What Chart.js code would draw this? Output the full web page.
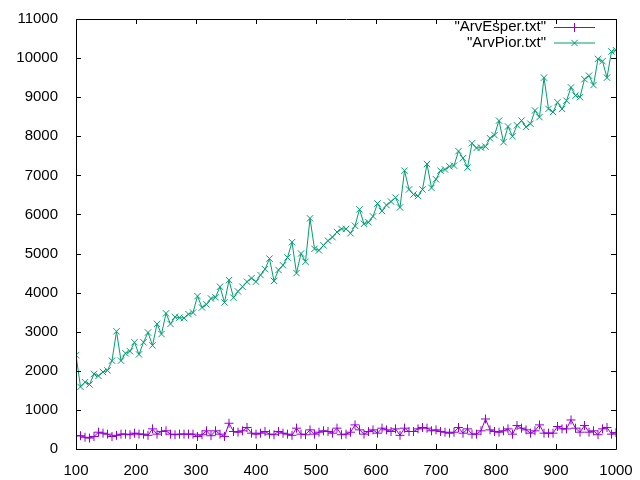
<!DOCTYPE html>
<html lang="pt-BR">
<head>
    <meta charset="UTF-8">
    <title>ArvEsper x ArvPior</title>
    <style>
        body {
            margin: 0;
            padding: 0;
            background: #ffffff;
        }
        canvas {
            display: block;
        }
    </style>
</head>
<body>
    <canvas id="grafico" width="640" height="480"></canvas>

    <script src="https://cdn.jsdelivr.net/npm/chart.js"></script>
    <script>
        // tamanhos n (eixo x): de 100 a 1000, um ponto a cada 7,5
        const tamanhos = [];
        for (let i = 0; i <= 120; i++) tamanhos.push(100 + i * 7.5);

        // valores
        const arvEsper = [
            340, 340, 300, 280, 320, 430, 405, 380, 320, 350,
            380, 380, 365, 405, 380, 380, 350, 515, 380, 450,
            465, 380, 365, 380, 380, 380, 380, 320, 365, 465,
            340, 465, 380, 322, 659, 448, 430, 465, 550, 405,
            380, 405, 448, 380, 365, 448, 405, 380, 350, 533,
            380, 365, 490, 380, 430, 465, 448, 405, 533, 365,
            380, 430, 617, 490, 380, 448, 490, 405, 533, 490,
            448, 515, 350, 533, 448, 448, 515, 550, 533, 465,
            490, 448, 430, 405, 430, 550, 405, 515, 380, 380,
            465, 768, 490, 448, 430, 465, 515, 380, 600, 533,
            490, 405, 465, 617, 405, 405, 405, 575, 515, 515,
            743, 533, 430, 600, 430, 465, 365, 515, 550, 380,
            420
        ];

        const arvPior = [
            2400, 1590, 1710, 1650, 1920, 1870, 1970, 2010, 2260, 3010,
            2260, 2450, 2500, 2730, 2420, 2730, 2980, 2650, 3200, 2940,
            3470, 3200, 3380, 3360, 3350, 3450, 3490, 3910, 3620, 3700,
            3850, 3880, 4150, 3750, 4320, 3870, 4030, 4150, 4280, 4370,
            4280, 4450, 4600, 4870, 4300, 4580, 4700, 4900, 5290, 4500,
            5000, 4790, 5900, 5120, 5080, 5210, 5330, 5420, 5550, 5630,
            5630, 5520, 5710, 6130, 5760, 5800, 5950, 6280, 6090, 6240,
            6330, 6430, 6180, 7120, 6640, 6510, 6470, 6640, 7290, 6680,
            6900, 7120, 7150, 7230, 7250, 7620, 7440, 7200, 7820, 7700,
            7710, 7735, 7950, 8030, 8400, 7850, 8250, 8000, 8280, 8400,
            8240, 8320, 8660, 8490, 9500, 8700, 8620, 8870, 8700, 8910,
            9250, 9040, 9000, 9460, 9550, 9310, 9980, 9920, 9500, 10170,
            10200
        ];

        const nomes = ['"ArvEsper.txt"', '"ArvPior.txt"'];
        const cores = ['#9400d3', '#009e73'];
        const marcadores = ['cross', 'crossRot'];

        const fonte = '"Liberation Sans", Arial, sans-serif';

        function pontos(valores) {
            return tamanhos.map((x, i) => ({ x: x, y: valores[i] }));
        }

        // moldura com ticks para dentro nos quatro lados e legenda no canto
        const molduraGnuplot = {
            id: 'molduraGnuplot',
            afterDraw(chart) {
                const ctx = chart.ctx;
                const area = chart.chartArea;
                const sx = chart.scales.x;
                const sy = chart.scales.y;
                const t = 5;

                ctx.save();
                ctx.strokeStyle = '#000000';
                ctx.lineWidth = 1;
                ctx.beginPath();
                ctx.rect(Math.round(area.left) + 0.5, Math.round(area.top) + 0.5,
                    Math.round(area.right - area.left), Math.round(area.bottom - area.top));

                sx.ticks.forEach(tk => {
                    const px = Math.round(sx.getPixelForValue(tk.value)) + 0.5;
                    ctx.moveTo(px, area.bottom);
                    ctx.lineTo(px, area.bottom - t);
                    ctx.moveTo(px, area.top);
                    ctx.lineTo(px, area.top + t);
                });
                sy.ticks.forEach(tk => {
                    const py = Math.round(sy.getPixelForValue(tk.value)) + 0.5;
                    ctx.moveTo(area.left, py);
                    ctx.lineTo(area.left + t, py);
                    ctx.moveTo(area.right, py);
                    ctx.lineTo(area.right - t, py);
                });
                ctx.stroke();

                // legenda
                ctx.font = '15px ' + fonte;
                ctx.textAlign = 'right';
                ctx.textBaseline = 'middle';
                chart.data.datasets.forEach((ds, i) => {
                    const y = 27 + i * 15.5;
                    ctx.fillStyle = '#000000';
                    ctx.fillText(ds.label, 546, y);
                    ctx.strokeStyle = ds.borderColor;
                    ctx.beginPath();
                    ctx.moveTo(554, y + 0.5);
                    ctx.lineTo(595, y + 0.5);
                    ctx.stroke();
                    Chart.helpers.drawPoint(ctx, {
                        pointStyle: ds.pointStyle,
                        radius: ds.pointRadius,
                        borderWidth: 1
                    }, 574.5, y + 0.5);
                });
                ctx.restore();
            }
        };

        const ctx = document.getElementById('grafico').getContext('2d');
        new Chart(ctx, {
            type: 'line',
            data: {
                datasets: [
                    {
                        label: nomes[0],
                        data: pontos(arvEsper),
                        borderColor: cores[0],
                        backgroundColor: cores[0],
                        borderWidth: 1,
                        pointStyle: marcadores[0],
                        pointRadius: 4.5,
                        pointBorderWidth: 1,
                        tension: 0,
                        fill: false
                    },
                    {
                        label: nomes[1],
                        data: pontos(arvPior),
                        borderColor: cores[1],
                        backgroundColor: cores[1],
                        borderWidth: 1,
                        pointStyle: marcadores[1],
                        pointRadius: 4.5,
                        pointBorderWidth: 1,
                        tension: 0,
                        fill: false
                    }
                ]
            },
            options: {
                responsive: false,
                animation: false,
                layout: {
                    padding: { top: 15, right: 24, left: 0, bottom: 0 }
                },
                plugins: {
                    legend: { display: false },
                    tooltip: { enabled: false }
                },
                scales: {
                    x: {
                        type: 'linear',
                        min: 100,
                        max: 1000,
                        grid: { display: false },
                        border: { display: false },
                        ticks: {
                            stepSize: 100,
                            padding: 5,
                            color: '#000000',
                            maxRotation: 0,
                            font: { family: fonte, size: 15 },
                            callback: v => String(v)
                        },
                        afterFit(scale) { scale.height = 31; }
                    },
                    y: {
                        min: 0,
                        max: 11000,
                        grid: { display: false },
                        border: { display: false },
                        ticks: {
                            stepSize: 1000,
                            padding: 10,
                            color: '#000000',
                            font: { family: fonte, size: 15 },
                            callback: v => String(v)
                        },
                        afterFit(scale) { scale.width = 76; }
                    }
                }
            },
            plugins: [molduraGnuplot]
        });
    </script>
</body>
</html>
